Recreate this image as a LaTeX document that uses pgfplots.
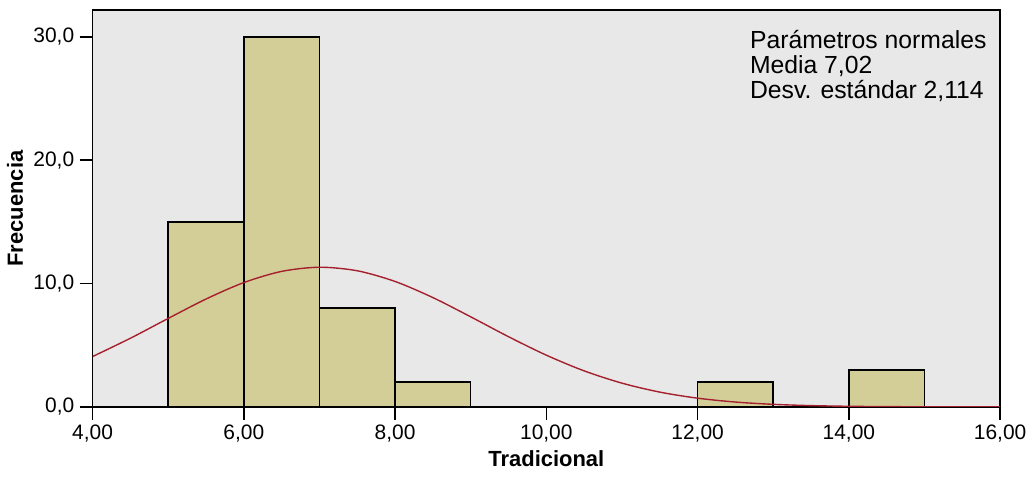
\documentclass[border=0pt]{standalone}
\usepackage{pgfplots}
\pgfplotsset{compat=1.18}
\usepackage{fontspec}
\setmainfont{Liberation Sans}
\definecolor{bgc}{RGB}{232,232,232}
\definecolor{barc}{RGB}{211,206,152}
\definecolor{curvec}{RGB}{165,32,45}
\begin{document}
\fontsize{10.5}{12.5}\selectfont
\begin{tikzpicture}
\begin{axis}[
  scale only axis,
  width=455pt, height=199pt,
  xmin=4, xmax=16, ymin=0, ymax=32.18,
  axis background/.style={fill=bgc},
  axis line style={line width=0.75pt},
  every tick/.style={black, line width=0.75pt},
  tick align=outside, tick pos=left,
  major tick length=6.5pt,
  xtick={4,6,8,10,12,14,16},
  ytick={0,10,20,30},
  /pgf/number format/assume math mode=true,
  xticklabel style={/pgf/number format/use comma, /pgf/number format/fixed, /pgf/number format/fixed zerofill, /pgf/number format/precision=2, yshift=1pt},
  yticklabel style={/pgf/number format/use comma, /pgf/number format/fixed, /pgf/number format/fixed zerofill, /pgf/number format/precision=1, xshift=1pt},
  ticklabel style={font=\fontsize{10.5}{12.5}\selectfont},
  xlabel={\textbf{Tradicional}},
  ylabel={\textbf{Frecuencia}},
  label style={font=\fontsize{11}{13}\selectfont},
  xlabel style={yshift=3pt},
  ylabel style={yshift=-2pt},
  clip=true,
]
\addplot[ybar interval, fill=barc, draw=black, line width=0.75pt] coordinates {(5,15) (6,30) (7,8) (8,2) (9,0)};
\addplot[ybar interval, fill=barc, draw=black, line width=0.75pt] coordinates {(12,2) (13,0)};
\addplot[ybar interval, fill=barc, draw=black, line width=0.75pt] coordinates {(14,3) (15,0)};
\addplot[curvec, line width=0.7pt, smooth, mark=none] coordinates {
(4,4.081) (4.5,5.564) (5,7.173) (5.5,8.744) (6,10.079) (6.5,10.986) (7,11.323)
(7.5,11.035) (8,10.169) (8.5,8.862) (9,7.302) (9.5,5.690) (10,4.193) (10.5,2.921)
(11,1.925) (11.5,1.199) (12,0.706) (12.5,0.393) (13,0.207) (13.5,0.103) (14,0.0486)
(14.5,0.0217) (15,0.0091) (15.5,0.0036) (16,0.0013)};
\node[anchor=north west, align=left, inner sep=0pt, font=\fontsize{12.4}{12.5}\selectfont]
  at (rel axis cs:0.724,0.95) {Parámetros normales\\Media 7,02\\Desv. estándar 2,114};
\end{axis}
\path (current axis.south west) ++(-45pt,-36.5pt) coordinate (bl);
\path (current axis.north east) ++(17pt,5pt) coordinate (tr);
\useasboundingbox (bl) rectangle (tr);
\end{tikzpicture}
\end{document}
